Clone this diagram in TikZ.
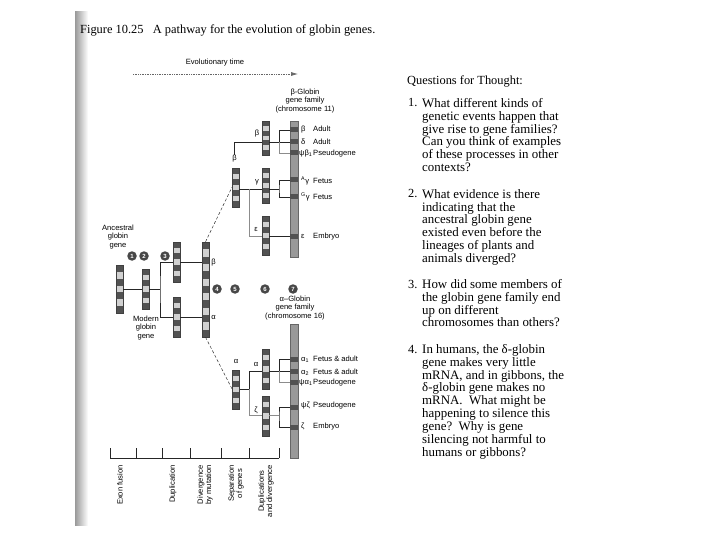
\documentclass[tikz,border=0pt]{standalone}
\usepackage{fontspec}
\setmainfont{Liberation Serif}
\setsansfont{Liberation Sans}
\usetikzlibrary{arrows.meta, positioning, calc}

\colorlet{genedark}{black!68}
\colorlet{genelight}{black!18}
\colorlet{chromfill}{black!40}

% light segments of a gene block: #1 segments, #2 the light ones
\newcommand{\genebands}[2]{%
  \foreach \k in {#2}{
    \fill[genelight] ($(path picture bounding box.north west)!{\k/#1}!(path picture bounding box.south west)$)
      rectangle ($(path picture bounding box.north east)!{(\k+1)/#1}!(path picture bounding box.south east)$);
  }}

\begin{document}
\begin{tikzpicture}[
    x=1pt, y=-1pt,
    gene/.style={
        draw=black!75,
        line width=0.3pt,
        fill=genedark,
        minimum width=7pt,
        minimum height=#1,
        inner sep=0pt,
        path picture={\genebands{7}{1,3,5}}
    },
    longgene/.style={gene=#1, path picture={\genebands{13}{1,3,5,7,9,11}}},
    chrom/.style={draw=black!60, line width=0.3pt, fill=chromfill, minimum width=8pt, minimum height=#1, inner sep=0pt},
    band/.style={fill=genedark, minimum width=8pt, minimum height=5pt, inner sep=0pt},
    link/.style={black!85, line width=0.6pt},
    faint/.style={black!45, line width=0.6pt},
    dashline/.style={black!80, densely dashed, line width=0.5pt},
    timearrow/.style={-{Latex[length=7pt, width=4pt]}, densely dotted, black!60, line width=0.7pt},
    stepdot/.style={circle, fill=black!72, text=white, font=\sffamily\bfseries\fontsize{6}{6}\selectfont, minimum size=9.5pt, inner sep=0pt},
    lbl/.style={font=\sffamily\fontsize{7.6}{8.2}\selectfont, inner sep=0pt, align=center},
    genelbl/.style={lbl, anchor=west},
    axislbl/.style={lbl, rotate=90, anchor=east},
    qhead/.style={font=\fontsize{12.4}{13}\selectfont, anchor=base west, inner sep=0pt},
    qtext/.style={font=\fontsize{12.9}{12.9}\selectfont, align=left, anchor=north west, inner sep=0pt}
]

\fill[white] (0,0) rectangle (720,540);
\useasboundingbox (0,0) rectangle (720,540);

% page edge of the scan
\shade[left color=black!40, right color=white] (75,12) rectangle (88,525);

\node[qhead, anchor=base west] (title) at (80,34) {Figure 10.25\hspace{0.5em} A pathway for the evolution of globin genes.};

% time arrow
\node[lbl] (evo) at (215,63) {Evolutionary time};
\coordinate (evoL) at (133,74);
\coordinate (evoR) at (298,74);
\draw[timearrow] (evoL) -- (evoR);

% ancestral and modern genes
\node[lbl] (anclbl) at (118,237) {Ancestral\\globin\\gene};
\node[gene=48pt] (anc) at (119.5,289) {};
\node[gene=40pt] (mod) at (145.5,289) {};
\node[lbl] (modlbl) at (146,328) {Modern\\globin\\gene};
\node[gene=40pt] (dupB) at (176.5,262) {};
\node[gene=40pt] (dupA) at (176.5,317) {};
\node[longgene=95pt] (sep) at (205.5,289.5) {};
\node[lbl] (sepB) at (213.5,263) {β};
\node[lbl] (sepA) at (213.5,317) {α};

% beta branch
\node[gene=39pt] (eB) at (235.5,187.5) {};
\node[lbl] (eBlbl) at (234.5,159) {β};
\node[gene=34pt] (gB) at (265.5,138) {};
\node[lbl] (gBlbl) at (257,134) {β};
\node[gene=35pt] (gG) at (265.5,185.5) {};
\node[lbl] (gGlbl) at (257,182) {γ};
\node[gene=39pt] (gE) at (265.5,235.5) {};
\node[lbl] (gElbl) at (256,229) {ε};

% alpha branch
\node[gene=39pt] (eA) at (236,389.5) {};
\node[lbl] (eAlbl) at (236,361) {α};
\node[gene=40pt] (gA) at (265.5,369) {};
\node[lbl] (gAlbl) at (256,364) {α};
\node[gene=40pt] (gZ) at (265.5,416) {};
\node[lbl] (gZlbl) at (256,410) {ζ};

% chromosomes
\node[lbl] (fam11) at (305,101) {β-Globin\\gene family\\(chromosome 11)};
\node[chrom=136pt] (chr11) at (294,189) {};
\node[band] (bB) at (294,130) {};
\node[band] (bD) at (294,142) {};
\node[band] (bPsiB) at (294,153) {};
\node[band] (bAg) at (294,180) {};
\node[band] (bGg) at (294,197) {};
\node[band] (bE) at (294,236) {};

\node[lbl] (fam16) at (295,308) {α–Globin\\gene family\\(chromosome 16)};
\node[chrom=134pt] (chr16) at (294,391) {};
\node[band] (bA1) at (294,359) {};
\node[band] (bA2) at (294,371) {};
\node[band] (bPsiA) at (294,382) {};
\node[band] (bPsiZ) at (294,407) {};
\node[band] (bZ) at (294,427) {};

\node[genelbl] (lB) at (301,130) {\makebox[12pt][l]{β}Adult};
\node[genelbl] (lD) at (301,142) {\makebox[12pt][l]{δ}Adult};
\node[genelbl] (lPsiB) at (299,154) {\makebox[14pt][l]{ψβ\textsubscript{1}}Pseudogene};
\node[genelbl] (lAg) at (301,181) {\makebox[12pt][l]{\textsuperscript{A}γ}Fetus};
\node[genelbl] (lGg) at (301,197) {\makebox[12pt][l]{\textsuperscript{G}γ}Fetus};
\node[genelbl] (lE) at (301,237) {\makebox[12pt][l]{ε}Embryo};
\node[genelbl] (lA1) at (301,359) {\makebox[12pt][l]{α\textsubscript{1}}Fetus \& adult};
\node[genelbl] (lA2) at (301,372) {\makebox[12pt][l]{α\textsubscript{2}}Fetus \& adult};
\node[genelbl] (lPsiA) at (299,383) {\makebox[14pt][l]{ψα\textsubscript{1}}Pseudogene};
\node[genelbl] (lPsiZ) at (301,406) {\makebox[12pt][l]{ψζ}Pseudogene};
\node[genelbl] (lZ) at (301,427) {\makebox[12pt][l]{ζ}Embryo};

% numbered events
\foreach \n/\x/\y in {1/132/256, 2/144/256, 3/165/256, 4/217/289, 5/235/289, 6/265/289, 7/293/289}
    \node[stepdot] (c\n) at (\x,\y) {\n};

% joints of the brackets
\coordinate (j1) at (160,289);
\coordinate (j2) at (249,189);
\coordinate (jD) at (279,142);
\coordinate (jG) at (279,189);
\coordinate (j4) at (249,389);
\coordinate (jA) at (279,371);
\coordinate (jZ) at (279,415);

% connectors
\draw[link] (anc) -- (mod);
\draw[link] (mod) -- (j1);
\draw[link] (dupB.west) -| (j1) |- (dupA.west);
\draw[link] (dupB.east) -- (sep.west |- dupB.east);
\draw[link] (dupA.east) -- (sep.west |- dupA.east);
\draw[dashline] (sep.north) -- (eB.west);
\draw[dashline] (sep.south) -- (eA.west);

\draw[link] (eBlbl.north) |- (gB.west |- jD);
\draw[link] (eB.east |- j2) -- (gG.west |- j2);
\draw[faint] (j2) |- (gE.west |- bE);
\draw[link] (gB.east |- jD) -- (bD.west);
\draw[link] (bB.west) -| (jD);
\draw[faint] (jD) |- (bPsiB.west);
\draw[link] (gG.east |- jG) -- (jG);
\draw[link] (bAg.west) -| (jG) |- (bGg.west);
\draw[link] (gE.east |- bE) -- (bE.west);

\draw[link] (eA.east |- j4) -- (j4);
\draw[link] (j4) |- (gA.west |- jA);
\draw[faint] (j4) |- (gZ.west |- jZ);
\draw[link] (gA.east |- jA) -- (bA2.west);
\draw[link] (bA1.west) -| (jA);
\draw[faint] (jA) |- (bPsiA.west);
\draw[faint] (gZ.east |- jZ) -- (jZ);
\draw[link] (bPsiZ.west) -| (jZ) |- (bZ.west);

% stages along the bottom
\foreach \i/\x in {0/110, 1/136, 2/162, 3/190, 4/221, 5/249, 6/279}{
    \coordinate (t\i) at (\x,458);
    \draw[link, line width=0.5pt] (t\i) -- ++(0,-10);
}
\draw[link, line width=0.5pt] (t0) -- (t6);
\node[axislbl] (s1) at (120,465) {Exon fusion};
\node[axislbl] (s2) at (173,465) {Duplication};
\node[axislbl] (s3) at (205,465) {Divergence\\by mutation};
\node[axislbl] (s4) at (236,465) {Separation\\of genes};
\node[axislbl] (s5) at (266,465) {Duplications\\and divergence};

% questions
\node[qhead] (qh) at (407,85) {Questions for Thought:};
\node[qhead] (n1) at (408,107) {1.};
\node[qtext] (q1) at (422,98) {What different kinds of\\genetic events happen that\\give rise to gene families?\\Can you think of examples\\of these processes in other\\contexts?};
\node[qhead] (n2) at (408,198) {2.};
\node[qtext] (q2) at (422,189) {What evidence is there\\indicating that the\\ancestral globin gene\\existed even before the\\lineages of plants and\\animals diverged?};
\node[qhead] (n3) at (408,288) {3.};
\node[qtext] (q3) at (422,279) {How did some members of\\the globin gene family end\\up on different\\chromosomes than others?};
\node[qhead] (n4) at (408,353) {4.};
\node[qtext] (q4) at (422,344) {In humans, the δ-globin\\gene makes very little\\mRNA, and in gibbons, the\\δ-globin gene makes no\\mRNA.\ \ What might be\\happening to silence this\\gene?\ \ Why is gene\\silencing not harmful to\\humans or gibbons?};

\end{tikzpicture}
\end{document}
